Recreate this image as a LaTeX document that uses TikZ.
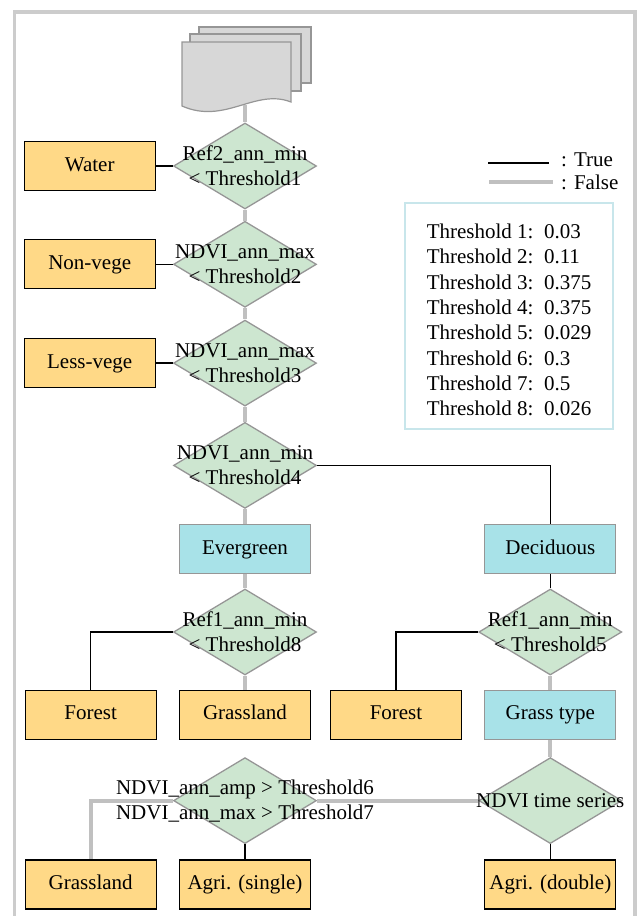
\documentclass[tikz,border=0pt]{standalone}
\usepackage{fontspec}
\setmainfont{Liberation Serif}
\usetikzlibrary{positioning, shapes.geometric}
\definecolor{leaffill}{RGB}{255,217,135}
\definecolor{classfill}{RGB}{168,226,232}
\definecolor{testfill}{RGB}{205,230,208}
\definecolor{edgegray}{RGB}{150,150,150}
\definecolor{nogray}{RGB}{192,192,192}
\definecolor{framegray}{RGB}{204,204,204}
\definecolor{sheetfill}{RGB}{215,215,215}
\definecolor{thrline}{RGB}{200,230,235}

\begin{document}
\begin{tikzpicture}[x=1pt, y=-1pt,
  every node/.style={font=\fontsize{21}{25}\selectfont},
  leaf/.style={draw, line width=1.3pt, fill=leaffill, minimum width=131pt, minimum height=49pt, text height=14pt, text depth=4pt},
  cls/.style={leaf, draw=edgegray, fill=classfill},
  test/.style={diamond, draw=edgegray, line width=1.3pt, fill=testfill, minimum width=143pt, minimum height=86pt, inner sep=0pt},
  yes/.style={line width=1.4pt},
  no/.style={line width=4pt, draw=nogray},
  sheet/.style={draw=edgegray, line width=1.2pt, fill=sheetfill}]
\useasboundingbox (0,0) rectangle (637,916);
\draw[framegray, line width=3.5pt] (14.5,930) -- (14.5,12) -- (635,12) -- (635,930);
% input stack
\filldraw[sheet] (199,27) rectangle (311,83);
\filldraw[sheet] (190,34) rectangle (301,91);
\filldraw[sheet] (182,42) -- (291,42) -- (291,102) .. controls (255,88) and (225,125) .. (182,106) -- cycle;
\coordinate (data) at (245,105);
% main column
\node[test, label={[align=center]center:Ref2\_ann\_min\\< Threshold1}] (q1) at (245,166) {};
\node[test, below=11pt of q1, label={[align=center]center:NDVI\_ann\_max\\< Threshold2}] (q2) {};
\node[test, below=11.5pt of q2, label={[align=center]center:NDVI\_ann\_max\\< Threshold3}] (q3) {};
\node[test, below=15pt of q3, label={[align=center]center:NDVI\_ann\_min\\< Threshold4}] (q4) {};
\node[leaf, left=17pt of q1] (water) {Water};
\node[leaf, left=17pt of q2] (nonveg) {Non-vege};
\node[leaf, left=17pt of q3] (lessveg) {Less-vege};
\node[cls, below=15pt of q4] (everg) {Evergreen};
\node[cls, right=173pt of everg] (decid) {Deciduous};
\node[test, below=14pt of everg, label={[align=center]center:Ref1\_ann\_min\\< Threshold8}] (q5) {};
\node[test, below=14pt of decid, label={[align=center]center:Ref1\_ann\_min\\< Threshold5}] (q6) {};
\node[leaf, below=14pt of q5] (grass1) {Grassland};
\node[leaf, left=22pt of grass1] (forest1) {Forest};
\node[cls, below=14pt of q6] (grasstype) {Grass type};
\node[leaf, left=22pt of grasstype] (forest2) {Forest};
\node[test, below=17pt of grasstype, label={[align=center]center:NDVI time series}] (q8) {};
\node[test, left=161pt of q8, label={[align=center]center:NDVI\_ann\_amp > Threshold6\\NDVI\_ann\_max > Threshold7}] (q7) {};
\node[leaf, below=15pt of q7] (agri1) {Agri. (single)};
\node[leaf, left=22pt of agri1] (grass2) {Grassland};
\node[leaf, below=15pt of q8] (agri2) {Agri. (double)};
% legend
\node[anchor=west, inner sep=0pt] (ltrue) at (561,160) {: True};
\node[anchor=west, inner sep=0pt] (lfalse) at (561,182) {: False};
\draw[yes] (488,163) -- (549,163);
\draw[no] (489,182) -- (553,182);
\node[draw=thrline, line width=1.3pt, minimum width=208pt, minimum height=226pt,
  label={[align=left, font=\fontsize{21}{25.3}\selectfont, yshift=-4pt]center:Threshold 1:~~0.03\\Threshold 2:~~0.11\\Threshold 3:~~0.375\\Threshold 4:~~0.375\\Threshold 5:~~0.029\\Threshold 6:~~0.3\\Threshold 7:~~0.5\\Threshold 8:~~0.026}] (thr) at (509,316) {};
% connectors
\draw[no] (data) -- (q1.north); \draw[no] (q1) -- (q2); \draw[no] (q2) -- (q3); \draw[no] (q3) -- (q4);
\draw[yes] (q1.west) -- (water.east); \draw[yes] (q2.west) -- (nonveg.east); \draw[yes] (q3.west) -- (lessveg.east);
\draw[no] (q4) -- (everg); \draw[yes] (q4.east) -| (decid.north);
\draw[no] (everg) -- (q5); \draw[yes] (decid) -- (q6);
\draw[yes] (q5.west) -| (forest1.north); \draw[no] (q5) -- (grass1);
\draw[yes] (q6.west) -| (forest2.north); \draw[no] (q6) -- (grasstype);
\draw[no] (grasstype) -- (q8); \draw[no] (q8.west) -- (q7.east); \draw[yes] (q8) -- (agri2);
\draw[no] (q7.west) -| (grass2.north); \draw[yes] (q7) -- (agri1);
\end{tikzpicture}
\end{document}
